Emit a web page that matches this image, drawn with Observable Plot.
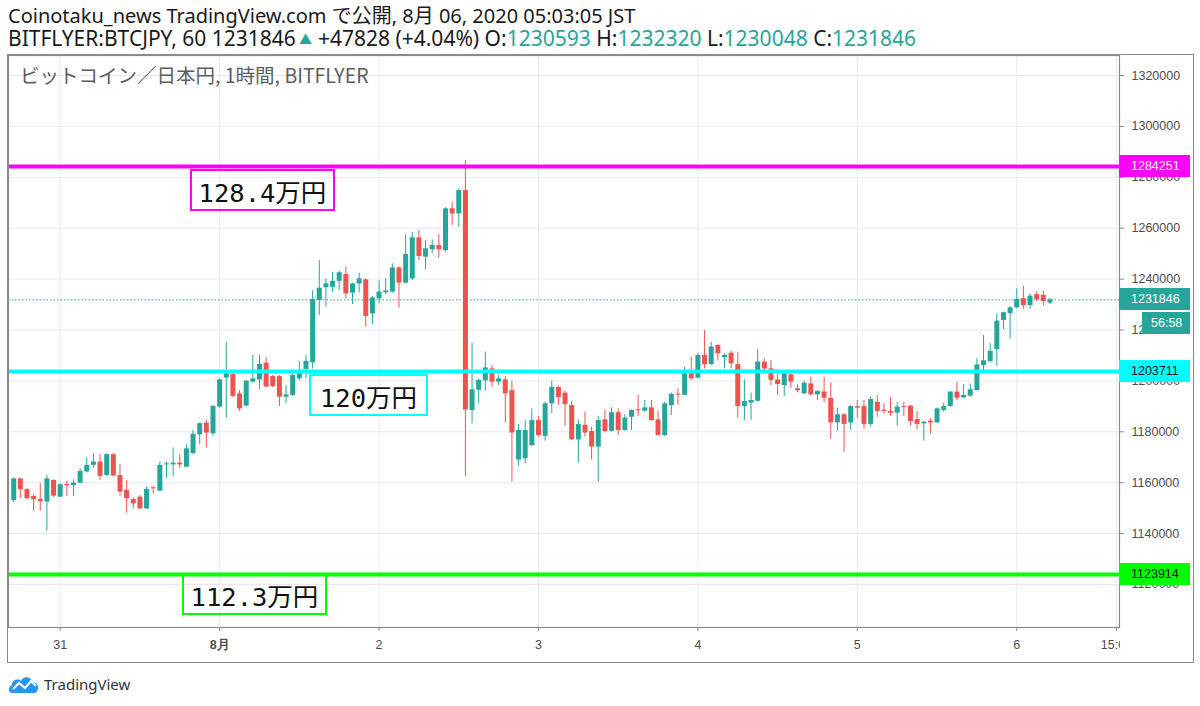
<!DOCTYPE html>
<html><head><meta charset="utf-8">
<script src="https://cdn.jsdelivr.net/npm/d3@7"></script>
<script src="https://cdn.jsdelivr.net/npm/@observablehq/plot@0.6"></script>
<style>
html,body{margin:0;padding:0;background:#fff;}
body{width:1200px;height:706px;position:relative;overflow:hidden;font-family:"Noto Sans","Noto Sans CJK JP",sans-serif;}
.hdr{position:absolute;left:8px;font-size:20px;color:#1a1a1a;white-space:nowrap;line-height:22px;}
.tl{color:#26a69a;}
.tri{color:#26a69a;font-size:13px;margin:0 6px 0 3px;vertical-align:2px;}
#chart{position:absolute;left:8px;top:55px;}
#border{position:absolute;left:7px;top:54px;width:1185px;height:607px;border:1.5px solid #8a8a8a;pointer-events:none;}
#corner{position:absolute;left:1120px;top:628px;width:73px;height:34px;background:#fff;}
#legend{position:absolute;left:20px;top:62px;font-size:19.5px;color:#5d5d5d;font-family:"Noto Sans CJK JP","Noto Sans",sans-serif;white-space:nowrap;line-height:26px;}
.plab{position:absolute;left:1119px;width:71px;height:22px;line-height:22px;font-family:"Liberation Sans",Arial,sans-serif;font-size:12.5px;padding-left:12px;box-sizing:border-box;}
.box{position:absolute;border:2.5px solid;box-sizing:border-box;background:transparent;font-family:"DejaVu Sans Mono","Noto Sans CJK JP",monospace;font-size:25.5px;color:#111;display:flex;align-items:center;justify-content:center;}
#tv{position:absolute;left:8px;top:674px;display:flex;align-items:center;}
#tv span{font-size:15px;color:#333;margin-left:4px;font-family:"Noto Sans",sans-serif;}
</style></head><body>
<div class="hdr" style="top:5px">Coinotaku_news TradingView.com で公開, 8月 06, 2020 05:03:05 JST</div>
<div class="hdr" style="top:27px;font-size:21px">BITFLYER:BTCJPY, 60 1231846<span class="tri">▲</span>+47828 (+4.04%) O:<span class="tl">1230593</span> H:<span class="tl">1232320</span> L:<span class="tl">1230048</span> C:<span class="tl">1231846</span></div>
<div id="chart"></div>
<div id="corner"></div>
<div id="border"></div>
<div id="legend">ビットコイン／日本円, 1時間, BITFLYER</div>
<div id="tv"><svg width="32" height="20" viewBox="0 0 32 20"><path d="M4 19 C0 19 0 12 4 11 C4 6 10 4 13 7 C15 2 23 2 24 8 C29 8 32 13 29 17 C28 19 27 19 26 19 Z" fill="#2196f3"/><polyline points="5,15 11,9 17,14 23,7 28,12" fill="none" stroke="#fff" stroke-width="2.2"/></svg><span>TradingView</span></div>
<script>
const startHour = Date.UTC(2020, 6, 30, 17);
const opens = [1153000,1161500,1157300,1154600,1153400,1152400,1160900,1154300,1159300,1158900,1159800,1164200,1166800,1168100,1162800,1171000,1162800,1157000,1153400,1154300,1149700,1158000,1156700,1167000,1167000,1167700,1166100,1171400,1178800,1183400,1179200,1189700,1201100,1202500,1194900,1190100,1199500,1200400,1207000,1201700,1201700,1193600,1194300,1200800,1204500,1207100,1231600,1236600,1236800,1239100,1241800,1234500,1238100,1239700,1226300,1232200,1234600,1234900,1244400,1238400,1240100,1256200,1248600,1251500,1253200,1251200,1267600,1265600,1274800,1188400,1196300,1200000,1204700,1199500,1200400,1196200,1168900,1169400,1174600,1184400,1178200,1191000,1197500,1195200,1190300,1176800,1182500,1180100,1174000,1184700,1180200,1187500,1180500,1185700,1188600,1188100,1189400,1184700,1178500,1190300,1194800,1194300,1202800,1201100,1210000,1206400,1213900,1209100,1210900,1206400,1189900,1191300,1192000,1207400,1204700,1200400,1198200,1202400,1196900,1194900,1198800,1194500,1195600,1193200,1183500,1186700,1183500,1189900,1189900,1182900,1191600,1188500,1188000,1187300,1189900,1190100,1184800,1183100,1184200,1183500,1188400,1189900,1195600,1193300,1194000,1196200,1206000,1207600,1212300,1223700,1226400,1228700,1232300,1229600,1233900,1233600,1230593];
const highs = [1161800,1161800,1157600,1155400,1159600,1162800,1161100,1159600,1160600,1161100,1165500,1169700,1171400,1171100,1171400,1171400,1167200,1160900,1153900,1155000,1158300,1158500,1168100,1168100,1173700,1171000,1174900,1180500,1183400,1184500,1190200,1200800,1215200,1203100,1196200,1200200,1210000,1210000,1209100,1202100,1202100,1198200,1202500,1207700,1210000,1235500,1247300,1240100,1242700,1243100,1244700,1238400,1242300,1240100,1233100,1239200,1240100,1246000,1244700,1257500,1258400,1259100,1255200,1255400,1257500,1268000,1270200,1275500,1286600,1214900,1200800,1211300,1206000,1202100,1201700,1199900,1182800,1184400,1189000,1186000,1191600,1199900,1197900,1196000,1191900,1184700,1187700,1181800,1186100,1188600,1189400,1189000,1186700,1188600,1194300,1192300,1192300,1188100,1191600,1195200,1196900,1205400,1209300,1210900,1219800,1215200,1214300,1210600,1211700,1211300,1200400,1195200,1212200,1208700,1208000,1202800,1203400,1202800,1198500,1199800,1201500,1196200,1201500,1199200,1189300,1187100,1190300,1192300,1192300,1193600,1194300,1191000,1193600,1191600,1191600,1190300,1187900,1184000,1185100,1189300,1191200,1195800,1199500,1198500,1198800,1208700,1217800,1214600,1226400,1227000,1229200,1236200,1237200,1234200,1235100,1235300,1232320];
const lows = [1152100,1153700,1153300,1148800,1148800,1141000,1154300,1154100,1154600,1154600,1159600,1163800,1165700,1160900,1162500,1162300,1154700,1148000,1149700,1149400,1149500,1155600,1156300,1161800,1162200,1165500,1165900,1171100,1175000,1173600,1178200,1189300,1185400,1193400,1188100,1189800,1199100,1196600,1197300,1197300,1189900,1191000,1193900,1200100,1200800,1204700,1225700,1229000,1234600,1235500,1232200,1230000,1234600,1221100,1222200,1230300,1233900,1234500,1228700,1238100,1239400,1247300,1243600,1249900,1248300,1250600,1261100,1260400,1162400,1183100,1191000,1196000,1197500,1198200,1183400,1160200,1166400,1167400,1174200,1177900,1176300,1187100,1190300,1182100,1176800,1167700,1177900,1169000,1160200,1179500,1179900,1178500,1180200,1180500,1186100,1187700,1184200,1178500,1178200,1186400,1190600,1194300,1200200,1200700,1204700,1206100,1207800,1204700,1204700,1185400,1184400,1184400,1191600,1204100,1198200,1194300,1193900,1197100,1195300,1194700,1194000,1192300,1191400,1177000,1180200,1172000,1180500,1185500,1180900,1181800,1185700,1187100,1186100,1182200,1186100,1182200,1180900,1176300,1179200,1183500,1187700,1189700,1192300,1193200,1193600,1196000,1204100,1207100,1205800,1220200,1216500,1228300,1228100,1228100,1231200,1229600,1230048];
const closes = [1161500,1157300,1153700,1153300,1152500,1161500,1154700,1159200,1158800,1159800,1164400,1166800,1168100,1162500,1171000,1162600,1156300,1153700,1151700,1149700,1157300,1157600,1166800,1167400,1167700,1167000,1173300,1179000,1183200,1179500,1190000,1200400,1202800,1193900,1189000,1199900,1200800,1206500,1197600,1197800,1193600,1194500,1202100,1202800,1207700,1232000,1236400,1238100,1239100,1242500,1234200,1238100,1240100,1225300,1232600,1234900,1235300,1244400,1238400,1249700,1256200,1248900,1251900,1253200,1251500,1267600,1265600,1274800,1188600,1196500,1200200,1205100,1199500,1200800,1194900,1179500,1180500,1180500,1184400,1178500,1191000,1197500,1193400,1190700,1176800,1182900,1179500,1174000,1184400,1180100,1187500,1180500,1185400,1188400,1188200,1189400,1184400,1178500,1191000,1194700,1194400,1202800,1200800,1210000,1206400,1213300,1210600,1210000,1206700,1189900,1191900,1192300,1207400,1204700,1200200,1198600,1202800,1199500,1196100,1199100,1194500,1195800,1193200,1183500,1186700,1182900,1189900,1189300,1182900,1192700,1188000,1188000,1187300,1189700,1189500,1184000,1182900,1183800,1183500,1189000,1189900,1195600,1193200,1194300,1196500,1206300,1207900,1211600,1223500,1226800,1228700,1232000,1229600,1233300,1232000,1231200,1231846];

const yTicks = [1120000,1140000,1160000,1180000,1200000,1220000,1240000,1260000,1280000,1300000,1320000];
const xTickDates = [Date.UTC(2020,6,31),Date.UTC(2020,7,1),Date.UTC(2020,7,2),Date.UTC(2020,7,3),Date.UTC(2020,7,4),Date.UTC(2020,7,5),Date.UTC(2020,7,6),Date.UTC(2020,7,6,15)].map(t=>new Date(t));
const xTickLabels = ["31","8月","2","3","4","5","6","15:00"];
const levels = [1284251, 1203711, 1123914];
const levelColors = ["#ff00ff", "#00ffff", "#00ff00"];
const levelTextColors = ["#fff", "#111", "#111"];
const lastPrice = 1231846;
const countdown = "56:58";
const notes = ["128.4万円", "120万円", "112.3万円"];

const UP = "#26a69a", DOWN = "#ef5350";
const candles = opens.map((o, i) => ({t: new Date(startHour + i * 3600e3), o, h: highs[i], l: lows[i], c: closes[i]}));
const col = d => d.c >= d.o ? UP : DOWN;

const plot = Plot.plot({
  width: 1185, height: 607,
  marginLeft: 0, marginRight: 74, marginTop: 0, marginBottom: 35,
  style: {fontFamily: "'Liberation Sans', Arial, sans-serif", fontSize: "12.5px", background: "#fff"},
  x: {type: "utc", domain: [new Date(Date.UTC(2020,6,30,16,13)), new Date(Date.UTC(2020,7,6,15,28))]},
  y: {domain: [1103100, 1327860]},
  marks: [
    Plot.gridY(yTicks, {stroke: "#e4e9f0", strokeOpacity: 1}),
    Plot.gridX(xTickDates, {stroke: "#e4e9f0", strokeOpacity: 1}),
    Plot.ruleY([lastPrice], {stroke: UP, strokeDasharray: "1.5,2"}),
    Plot.ruleX(candles, {x: "t", y1: "l", y2: "h", stroke: col, strokeWidth: 1}),
    Plot.ruleX(candles, {x: "t", y1: "o", y2: "c", stroke: col, strokeWidth: 5}),
    Plot.ruleY(levels, {stroke: (d, i) => levelColors[i], strokeWidth: 4}),
    Plot.frame({stroke: "#8a8a8a", strokeWidth: 1.2}),
    Plot.axisY(yTicks, {anchor: "right", tickSize: 4, tickPadding: 8, tickFormat: d => String(d), color: "#4d4d4d", stroke: "#8a8a8a"}),
    Plot.axisX(xTickDates, {anchor: "bottom", tickSize: 4, tickPadding: 9, tickFormat: (d, i) => xTickLabels[i], color: "#4d4d4d", stroke: "#8a8a8a"})
  ]
});
document.getElementById("chart").appendChild(plot);
d3.select(plot).selectAll("text").filter(function(){ return this.textContent === "8月"; }).attr("font-weight", "bold");

const yS = plot.scale("y");
const top0 = 55;
function addLabel(v, bg, fg, text, left, width) {
  const el = document.createElement("div");
  el.className = "plab";
  el.style.top = (top0 + yS.apply(v) - 11) + "px";
  el.style.background = bg; el.style.color = fg;
  el.textContent = text;
  if (left) { el.style.left = left + "px"; el.style.width = width + "px"; el.style.paddingLeft = "9px"; }
  document.body.appendChild(el);
  return el;
}
levels.forEach((v, i) => addLabel(v, levelColors[i], levelTextColors[i], String(v)));
addLabel(lastPrice, UP, "#fff", String(lastPrice));
const cd = addLabel(lastPrice, UP, "#fff", countdown, 1142, 48);
cd.style.top = (top0 + yS.apply(lastPrice) + 13) + "px";

const boxSpecs = [
  {left: 190, top: 169, w: 145, h: 42},
  {left: 309, top: 374, w: 119, h: 42},
  {left: 182, top: 573, w: 145, h: 42}
];
notes.forEach((t, i) => {
  const b = document.createElement("div");
  b.className = "box";
  const s = boxSpecs[i];
  b.style.left = s.left + "px"; b.style.top = s.top + "px";
  b.style.width = s.w + "px"; b.style.height = s.h + "px";
  b.style.borderColor = levelColors[i];
  b.textContent = t;
  document.body.appendChild(b);
});
</script>
</body></html>
